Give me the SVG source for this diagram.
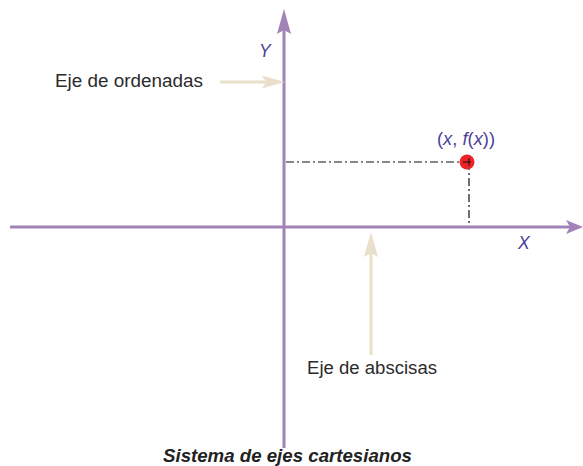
<svg xmlns="http://www.w3.org/2000/svg" width="583" height="466" viewBox="0 0 583 466">
<style>
.axis{stroke:#a283b8;stroke-width:3;fill:none}
.axhead{fill:#a283b8}
.ptr{stroke:#e9e0cb;stroke-width:3;fill:none}
.ptrhead{fill:#e9e0cb}
.guide{stroke:#111;stroke-width:1.2;fill:none;stroke-dasharray:8 3 2 3}
.lbl{font-family:"Liberation Sans",Arial,sans-serif;font-size:17.5px;fill:#2b2b2b}
.ax{font-family:"Liberation Sans",Arial,sans-serif;font-size:17.5px;fill:#4a3f99}
.title{font-family:"Liberation Sans",Arial,sans-serif;font-size:18.5px;font-weight:bold;font-style:italic;fill:#222}
</style>
<rect width="583" height="466" fill="#fff"/>
<g id="connectors">
  <g id="y-axis">
    <line class="axis" x1="284" y1="448" x2="284" y2="28"/>
    <path class="axhead" d="M284,9 L291,34 L284,30 L277,34 Z"/>
  </g>
  <g id="x-axis">
    <line class="axis" x1="10" y1="227" x2="570" y2="227"/>
    <path class="axhead" d="M583,227 L566,234 L570,227 L566,220 Z"/>
  </g>
  <g id="ordenadas-arrow">
    <line class="ptr" x1="220" y1="82" x2="266" y2="82"/>
    <path class="ptrhead" d="M285,82 L262,88.5 L266,82 L262,75.5 Z"/>
  </g>
  <g id="abscisas-arrow">
    <line class="ptr" x1="371" y1="355" x2="371" y2="252"/>
    <path class="ptrhead" d="M371,232 L378,257 L371,253 L364,257 Z"/>
  </g>
  <g id="guides">
    <line class="guide" x1="286" y1="162" x2="469" y2="162"/>
    <line class="guide" x1="469" y1="162" x2="469" y2="226"/>
  </g>
</g>
<g id="point">
  <circle cx="467" cy="162" r="7.5" fill="#ec2427"/>
  <line x1="463" y1="162" x2="471" y2="162" stroke="#111" stroke-width="1"/>
  <line x1="469" y1="158" x2="469" y2="166" stroke="#111" stroke-width="1"/>
  <text class="ax" x="437" y="145" textLength="58" lengthAdjust="spacingAndGlyphs">(<tspan font-style="italic">x</tspan>, <tspan font-style="italic">f</tspan>(<tspan font-style="italic">x</tspan>))</text>
</g>
<g id="label-y"><text class="ax" x="259" y="57" font-style="italic">Y</text></g>
<g id="label-x"><text class="ax" x="518" y="249" font-style="italic">X</text></g>
<g id="label-ordenadas"><text class="lbl" x="55" y="87" textLength="148" lengthAdjust="spacingAndGlyphs">Eje de ordenadas</text></g>
<g id="label-abscisas"><text class="lbl" x="307" y="374" textLength="130" lengthAdjust="spacingAndGlyphs">Eje de abscisas</text></g>
<g id="title"><text class="title" x="163" y="462" textLength="249" lengthAdjust="spacingAndGlyphs">Sistema de ejes cartesianos</text></g>
</svg>
